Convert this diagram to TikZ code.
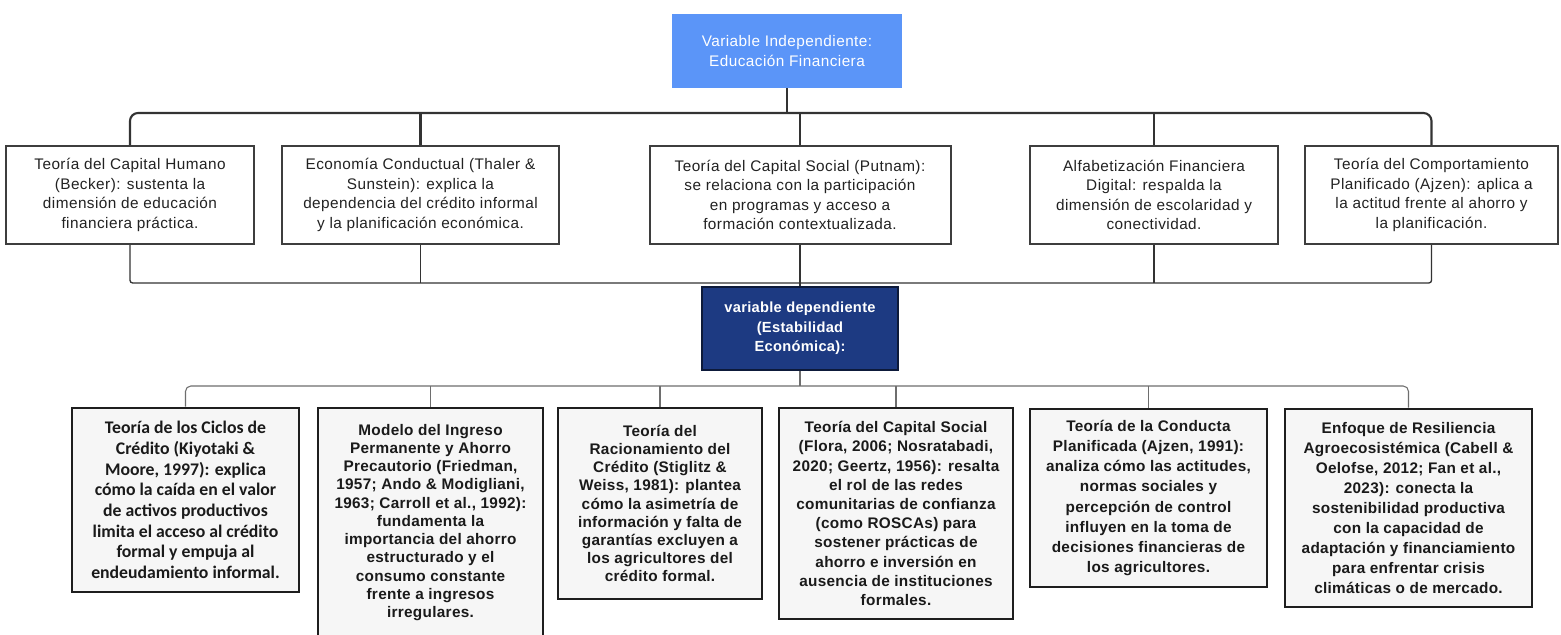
\documentclass[tikz,border=0pt]{standalone}
\usepackage{fontspec}
\setmainfont{Liberation Sans}
\newfontfamily\lsp{Liberation Sans}[LetterSpace=3]
\newfontfamily\lspb{Liberation Sans}[LetterSpace=2]
\newfontfamily\carl{Carlito}
\definecolor{topblue}{HTML}{5B95F8}
\definecolor{midnavy}{HTML}{1D3A82}
\definecolor{midedge}{HTML}{0D1A3A}
\definecolor{roneborder}{HTML}{3E3E3E}
\definecolor{ronetext}{HTML}{222222}
\definecolor{rtwoborder}{HTML}{1E1E1E}
\definecolor{rtwofill}{HTML}{F6F6F6}
\definecolor{rtwotext}{HTML}{1A1A1A}
\definecolor{busdark}{HTML}{333333}
\definecolor{busgray}{HTML}{6E6E6E}
\begin{document}
\begin{tikzpicture}[x=0.75pt,y=-0.75pt,
  sz/.style 2 args={minimum width=#1*0.75pt, minimum height=#2*0.75pt},
  topbox/.style={fill=topblue, draw=none, text=white, align=center, inner sep=0pt,
    font=\lsp\fontsize{11.5}{14.3}\selectfont},
  rowone/.style={draw=roneborder, line width=1.5pt, fill=white, text=ronetext,
    align=center, inner sep=0pt, font=\lsp\fontsize{11.5}{14.7}\selectfont},
  midbox/.style={fill=midnavy, draw=midedge, line width=1.2pt, text=white,
    align=center, inner sep=0pt, font=\lspb\bfseries\fontsize{11}{14.6}\selectfont},
  rowtwo/.style={draw=rtwoborder, line width=2.2pt, fill=rtwofill, text=rtwotext,
    align=center, inner sep=0pt, font=\lspb\bfseries\fontsize{11.5}{#1}\selectfont},
  busone/.style={draw=busdark, line width=1.6pt},
  bustwo/.style={draw=busdark, line width=1pt},
  busthree/.style={draw=busgray, line width=0.8pt}
]
\useasboundingbox (0,0) rectangle (1561,635);
\fill[white] (0,0) rectangle (1561,635);
\clip (0,0) rectangle (1561,635);

% top
\node[topbox, sz={230}{74}] (top) at (787,51) {Variable Independiente:\\Educación Financiera};

% row one
\node[rowone, sz={248}{98}] (r1a) at (130,195)
  {Teoría del Capital Humano\\(Becker): sustenta la\\dimensión de educación\\financiera práctica.};
\node[rowone, sz={277}{98}] (r1b) at (420.5,195)
  {Economía Conductual (Thaler \&\\Sunstein): explica la\\dependencia del crédito informal\\y la planificación económica.};
\node[rowone, sz={301}{98}] (r1c) at (800,195)
  {Teoría del Capital Social (Putnam):\\se relaciona con la participación\\en programas y acceso a\\formación contextualizada.};
\node[rowone, sz={248}{98}] (r1d) at (1154,195)
  {Alfabetización Financiera\\Digital: respalda la\\dimensión de escolaridad y\\conectividad.};
\node[rowone, sz={253}{98}] (r1e) at (1431.5,195)
  {Teoría del Comportamiento\\Planificado (Ajzen): aplica a\\la actitud frente al ahorro y\\la planificación.};

% middle
\node[midbox, sz={196}{83}] (mid) at (800,328.5)
  {variable dependiente\\(Estabilidad\\Económica):};

% row two
\node[rowtwo=15.5, sz={227}{184}, font=\carl\bfseries\fontsize{13.3}{15.5}\selectfont] (r2a) at (185.5,500)
  {Teoría de los Ciclos de\\Crédito (Kiyotaki \&\\Moore, 1997): explica\\cómo la caída en el valor\\de activos productivos\\limita el acceso al crédito\\formal y empuja al\\endeudamiento informal.};
\node[rowtwo=13.7, sz={225}{237}] (r2b) at (430.5,526.5)
  {\parbox[c][153.75pt][t]{161pt}{\centering Modelo del Ingreso\\Permanente y Ahorro\\Precautorio (Friedman,\\1957; Ando \& Modigliani,\\1963; Carroll et al., 1992):\\fundamenta la\\importancia del ahorro\\estructurado y el\\consumo constante\\frente a ingresos\\irregulares.}};
\node[rowtwo=13.6, sz={204}{191}] (r2c) at (660,503.5)
  {Teoría del\\Racionamiento del\\Crédito (Stiglitz \&\\Weiss, 1981): plantea\\cómo la asimetría de\\información y falta de\\garantías excluyen a\\los agricultores del\\crédito formal.};
\node[rowtwo=14.4, sz={234}{211}] (r2d) at (896,513.5)
  {Teoría del Capital Social\\(Flora, 2006; Nosratabadi,\\2020; Geertz, 1956): resalta\\el rol de las redes\\comunitarias de confianza\\(como ROSCAs) para\\sostener prácticas de\\ahorro e inversión en\\ausencia de instituciones\\formales.};
\node[rowtwo=15.1, sz={237}{178}] (r2e) at (1148.5,498)
  {Teoría de la Conducta\\Planificada (Ajzen, 1991):\\analiza cómo las actitudes,\\normas sociales y\\percepción de control\\influyen en la toma de\\decisiones financieras de\\los agricultores.};
\node[rowtwo=15, sz={247}{198}] (r2f) at (1408.5,508)
  {Enfoque de Resiliencia\\Agroecosistémica (Cabell \&\\Oelofse, 2012; Fan et al.,\\2023): conecta la\\sostenibilidad productiva\\con la capacidad de\\adaptación y financiamiento\\para enfrentar crisis\\climáticas o de mercado.};

% connectors
\coordinate (busA) at (0,113);
\coordinate (busB) at (0,283);
\coordinate (busC) at (0,386);

\draw[busone] (top.south) -- (top.south |- busA);
\draw[busone, rounded corners=6] (r1a.north) -- (r1a.north |- busA) -- (r1e.north |- busA) -- (r1e.north);
\foreach \n in {r1b,r1c,r1d} \draw[busone] (\n.north) -- (\n.north |- busA);

\draw[bustwo, rounded corners=2] (r1a.south) -- (r1a.south |- busB) -- (r1e.south |- busB) -- (r1e.south);
\foreach \n in {r1b,r1d} \draw[bustwo] (\n.south) -- (\n.south |- busB);
\draw[bustwo] (r1c.south) -- (mid.north);

\draw[busthree] (mid.south) -- (mid.south |- busC);
\draw[busthree, rounded corners=4] (r2a.north) -- (r2a.north |- busC) -- (r2f.north |- busC) -- (r2f.north);
\foreach \n in {r2b,r2c,r2d,r2e} \draw[busthree, rounded corners=3] (\n.north) -- (\n.north |- busC);
\end{tikzpicture}
\end{document}
